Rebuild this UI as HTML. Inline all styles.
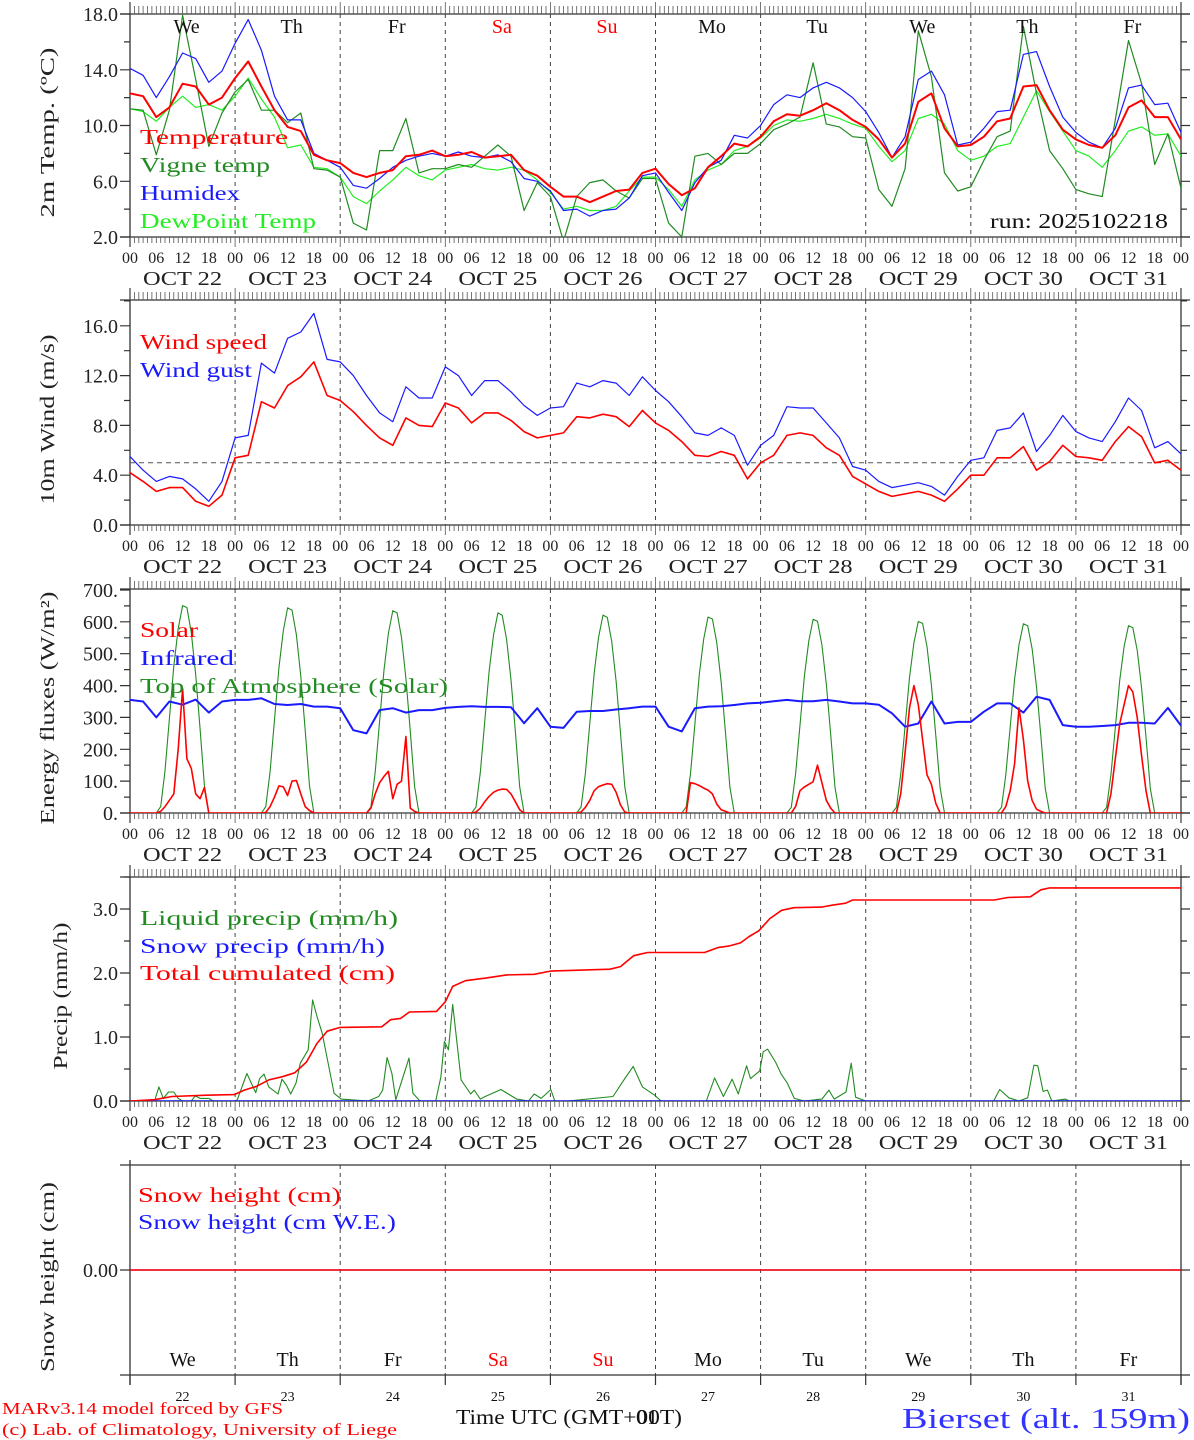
<!DOCTYPE html>
<html><head><meta charset="utf-8"><title>MAR forecast Bierset</title>
<style>
html,body{margin:0;padding:0;background:#fff;}
svg{display:block;font-family:"Liberation Serif",serif;}
</style></head>
<body>
<svg id="chart" xmlns="http://www.w3.org/2000/svg" width="1194" height="1440" viewBox="0 0 1194 1440">
<rect x="0" y="0" width="1194" height="1440" fill="#fff"/>
</svg>
<script>
// ---- categories ----
const dayNames = ["We","Th","Fr","Sa","Su","Mo","Tu","We","Th","Fr"];
const dayNums = ["22","23","24","25","26","27","28","29","30","31"];
const hourLabels = ["00","06","12","18"];
// ---- panel 1: temperatures (3-hourly, 00 Oct22 .. 00 Nov1) ----
const temperature = [12.3,12.1,10.6,11.3,13.0,12.8,11.5,12.0, 13.4,14.6,12.8,11.1,9.9,9.6,7.9,7.5, 7.3,6.6,6.3,6.6,6.8,7.8,7.9,8.2, 7.8,7.9,8.1,7.7,7.8,7.9,6.8,6.4, 5.6,4.9,4.9,4.5,4.9,5.3,5.4,6.6, 6.9,5.8,5.0,5.5,7.0,7.8,8.7,8.5, 9.2,10.3,10.8,10.7,11.1,11.6,11.1,10.4, 9.9,9.0,7.7,8.7,11.7,12.3,9.8,8.5, 8.6,9.2,10.3,10.5,12.8,12.9,11.1,9.7, 9.0,8.6,8.4,9.3,11.3,11.8,10.6,10.6,9.0];
const humidex = [14.1,13.6,12.0,13.5,15.2,14.8,13.1,13.9, 15.9,17.6,15.4,12.1,10.4,10.4,8.0,7.5, 7.0,5.7,5.5,6.2,7.0,7.5,7.8,8.0, 7.8,8.1,7.8,7.7,7.9,7.4,6.2,6.0, 5.3,3.9,4.0,3.5,3.9,4.0,4.8,6.4, 6.6,5.2,3.9,5.9,7.0,7.5,9.3,9.1, 10.0,11.5,12.2,12.0,12.7,13.1,12.7,12.0, 11.0,9.5,7.7,9.2,13.3,13.9,12.2,8.6, 8.8,9.8,11.0,11.1,15.1,15.3,12.8,10.6, 9.5,8.8,8.4,9.8,12.7,12.9,11.5,11.6,9.5];
const dewPoint = [11.2,11.0,10.3,11.3,12.1,11.3,11.5,11.1, 12.1,13.4,11.9,10.6,8.4,8.6,7.0,6.9, 6.3,4.9,4.4,5.3,6.1,7.0,6.4,6.1, 6.8,7.0,7.2,6.9,6.8,7.0,6.8,6.1, 5.2,4.0,4.2,3.9,3.9,4.2,5.3,6.3, 6.3,5.4,4.2,6.1,6.8,7.2,8.2,8.5, 9.1,10.0,10.4,10.3,10.5,10.8,10.5,10.1, 9.8,8.5,7.4,8.2,10.5,10.8,10.1,8.2, 7.5,7.8,8.5,8.7,10.6,12.5,11.0,9.6, 8.2,7.8,7.0,8.2,9.6,9.9,9.3,9.4,7.8];
const vigneTemp = [11.2,11.1,7.9,11.1,17.9,13.3,8.5,10.9, 12.4,13.3,11.1,11.1,10.2,10.9,6.9,6.8, 6.3,3.0,2.5,8.2,8.2,10.5,6.6,6.9, 6.9,7.2,7.0,7.8,8.6,7.8,3.9,5.9, 4.9,1.7,4.9,5.9,6.1,5.3,4.8,6.2, 6.2,3.0,2.0,7.8,8.0,7.2,8.0,8.0, 8.7,9.7,10.1,10.6,14.5,10.1,9.9,9.2, 9.1,5.4,4.2,6.9,16.8,13.5,6.6,5.3, 5.6,7.5,9.2,9.6,17.1,12.3,8.2,6.9, 5.4,5.1,4.9,10.4,16.1,13.0,7.2,9.4,5.5];
const tempTicks = [2,6,10,14,18];
const tempTickLabels = ["2.0","6.0","10.0","14.0","18.0"];
// ---- panel 2: wind (3-hourly) ----
const windSpeed = [4.2,3.5,2.7,3.0,3.0,1.9,1.5,2.4, 5.4,5.6,9.9,9.4,11.2,11.9,13.1,10.4, 10.0,9.1,8.0,7.0,6.4,8.6,8.0,7.9, 9.8,9.4,8.2,9.0,9.0,8.4,7.5,7.0, 7.2,7.4,8.7,8.6,8.9,8.7,7.9,9.2, 8.2,7.6,6.7,5.6,5.5,5.9,5.6,3.7, 5.0,5.6,7.2,7.4,7.2,6.2,5.6,3.9, 3.3,2.7,2.3,2.5,2.7,2.4,1.9,2.9, 4.0,4.0,5.4,5.4,6.3,4.4,5.1,6.4, 5.5,5.4,5.2,6.7,7.9,7.1,5.0,5.2,4.4];
const windGust = [5.5,4.4,3.5,3.9,3.7,2.9,1.9,3.5, 7.0,7.2,13.0,12.2,15.0,15.5,17.0,13.3, 13.1,12.0,10.4,9.0,8.3,11.1,10.2,10.2, 12.7,12.0,10.4,11.6,11.6,10.7,9.6,8.8, 9.4,9.5,11.4,11.1,11.6,11.4,10.4,11.9, 10.8,9.9,8.7,7.4,7.2,7.8,7.2,4.8, 6.4,7.2,9.5,9.4,9.4,8.2,7.0,4.7, 4.4,3.5,3.0,3.2,3.4,3.1,2.4,3.9, 5.2,5.4,7.6,7.8,9.0,5.9,7.2,8.8, 7.5,7.0,6.7,8.3,10.2,9.2,6.2,6.7,5.7];
const windRef = [5.0];
const windTicks = [0,4,8,12,16];
const windTickLabels = ["0.0","4.0","8.0","12.0","16.0"];
// ---- panel 3: energy fluxes ----
const infrared = [355,350,300,350,340,356,315,350, 355,355,360,342,339,342,334,334, 329,260,250,323,329,315,323,323, 330,333,335,333,333,332,282,329, 271,267,318,320,320,325,329,334, 334,271,256,329,334,335,339,344, 346,351,355,351,351,355,350,344, 344,340,313,271,281,350,281,286, 286,318,344,344,315,365,355,276, 271,271,273,276,283,283,281,330,274];
// hourly daytime values 06..18 UTC for each day
const solar = [
 [0,5,20,40,60,200,390,170,140,60,45,80,0],
 [0,2,20,50,85,82,55,100,102,60,20,8,0],
 [0,15,60,95,115,131,45,90,100,240,15,5,0],
 [0,3,15,35,52,65,72,75,74,60,35,10,0],
 [0,3,18,40,70,83,88,92,90,65,25,3,0],
 [0,0,95,92,86,78,72,60,28,10,5,0,0],
 [0,0,20,70,82,90,98,150,95,40,15,0,0],
 [0,0,60,190,330,400,340,230,120,90,30,0,0],
 [0,0,20,70,155,330,230,100,40,12,5,0,0],
 [0,0,60,170,280,340,400,380,300,180,70,0,0]];
const toaSolar = [
 [0,20,132,296,461,579,651,645,566,434,263,86,0],
 [0,20,130,293,455,572,644,637,559,429,260,85,0],
 [0,19,128,288,449,564,635,628,551,423,256,83,0],
 [0,19,127,285,444,558,628,621,545,418,254,82,0],
 [0,19,125,282,439,552,621,614,539,414,251,82,0],
 [0,19,124,279,435,546,615,609,534,410,248,81,0],
 [0,18,123,276,430,540,608,602,528,405,246,80,0],
 [0,18,121,273,425,534,601,595,522,401,243,79,0],
 [0,18,120,270,420,528,594,588,516,396,240,78,0],
 [0,18,119,267,416,523,588,582,511,392,238,77,0]];
const energyTicks = [0,100,200,300,400,500,600,700];
const energyTickLabels = ["0.","100.","200.","300.","400.","500.","600.","700."];
// ---- panel 4: precipitation ----
const liquidHours = [0,5.6,6.6,7.6,8.8,10,11,12,14,14.9,16,18,19,24,24.5,26.7,28.7,29.6,30.6,31.7,33.8,34.7,35.7,36.7,37.9,38.9,40.7,41.7,42.7,43.9,46.6,48.2,54.4,56.8,57.7,58.7,59.8,60.7,63.7,64.6,66.2,69.8,71,71.8,72.7,73.7,75.6,77.8,78.6,80,81.1,84.7,88.3,91,92.3,93.9,96.1,97,100,110.3,113,114.9,117,119.8,121.3,131.6,133.5,135.5,137.5,138.9,140.8,141.7,143.8,144.6,145.6,147.4,148.7,150.1,151.7,154,158,159.6,160.8,163.5,164.7,165.7,168,197.2,198.6,200.7,203,205,206.4,207.3,208.5,209.5,210.5,213.6,214.5,240];
const liquidPrecip = [0,0,0.22,0.04,0.14,0.14,0.04,0,0,0.08,0.04,0.04,0,0,0.02,0.43,0.13,0.35,0.42,0.22,0.11,0.34,0.25,0.11,0.28,0.59,0.8,1.58,1.32,1.06,0.12,0.03,0,0.07,0.17,0.68,0.43,0.02,0.67,0.12,0,0,0.38,0.93,0.8,1.51,0.33,0.11,0.17,0.03,0.07,0.18,0.03,0,0.11,0.04,0.18,0,0,0.07,0.35,0.54,0.22,0.09,0,0,0.36,0.07,0.34,0.11,0.55,0.35,0.47,0.77,0.81,0.61,0.42,0.28,0.04,0,0.03,0.17,0.03,0.14,0.59,0.06,0,0,0.18,0.05,0,0.05,0.56,0.55,0.15,0.17,0,0.03,0,0];
const snowPrecipHours = [0,240];
const snowPrecip = [0,0];
const cumulHours = [0,5.6,9.6,17.5,23.8,26.1,28.9,31.7,34.8,37.6,40.3,42.7,45,48,57.5,59.5,61.8,63.8,70,72,73.7,76.6,81.2,86,92.3,96,109.6,112,115,118.2,131.2,134.4,136.7,139.4,141.4,143.6,146.1,148.8,151.6,157.9,160.3,163.4,165,197.4,200.4,205.6,208,210,240];
const cumulPrecip = [0,0.02,0.07,0.09,0.1,0.17,0.23,0.33,0.38,0.44,0.61,0.9,1.09,1.15,1.16,1.27,1.29,1.39,1.4,1.55,1.79,1.88,1.92,1.97,1.98,2.03,2.06,2.1,2.27,2.32,2.32,2.4,2.42,2.47,2.57,2.66,2.85,2.98,3.02,3.03,3.06,3.09,3.14,3.14,3.18,3.19,3.3,3.33,3.33];
const precipTicks = [0,1,2,3];
const precipTickLabels = ["0.0","1.0","2.0","3.0"];
// ---- panel 5: snow ----
const snowHours = [0,240];
const snowHeight = [0,0];
const snowWE = [0,0];
const snowTicks = [0];
const snowTickLabels = ["0.00"];

const NS = "http://www.w3.org/2000/svg";
const svg = document.getElementById("chart");
const X0 = 130, X1 = 1181, HT = 240;
function xOf(h){ return X0 + (X1 - X0) * h / HT; }
function yOf(p, v){ return p.bottom - (v - p.ymin) / (p.ymax - p.ymin) * (p.bottom - p.top); }
function mk(tag, attrs, parent){
  const el = document.createElementNS(NS, tag);
  for (const k in attrs) el.setAttribute(k, attrs[k]);
  (parent || svg).appendChild(el);
  return el;
}
function nm(el, name){
  
  
  return el;
}
function txt(x, y, s, size, color, name, opts){
  opts = opts || {};
  const a = {x:x, y:y, "font-size":size, fill:color||"#000"};
  if (opts.anchor) a["text-anchor"] = opts.anchor;
  if (opts.len) { a.textLength = opts.len; a.lengthAdjust = "spacingAndGlyphs"; }
  if (opts.transform) a.transform = opts.transform;
  const el = mk("text", a, opts.parent);
  el.textContent = s;
  nm(el, name);
  return el;
}

const panels = [
  {id:"temp", top:14, bottom:237, ymin:2, ymax:18, ticks:tempTicks, labels:tempTickLabels, minor:2, title:"2m Temp. (\u00baC)", tx:47, tlen:170},
  {id:"wind", top:300, bottom:525, ymin:0, ymax:225/12.45, ticks:windTicks, labels:windTickLabels, minor:2, title:"10m Wind (m/s)", tx:47, tlen:170},
  {id:"energy", top:589, bottom:813, ymin:0, ymax:224/0.3186, ticks:energyTicks, labels:energyTickLabels, minor:50, title:"Energy fluxes (W/m\u00b2)", tx:47, tlen:233},
  {id:"precip", top:877, bottom:1101, ymin:0, ymax:3.5, ticks:precipTicks, labels:precipTickLabels, minor:0.5, title:"Precip (mm/h)", tx:60, tlen:147},
  {id:"snow", top:1165, bottom:1375, ymin:-1, ymax:1, ticks:snowTicks, labels:snowTickLabels, minor:0, title:"Snow height (cm)", tx:47, tlen:190}
];

// clip paths
const defs = mk("defs", {});
nm(defs, "clip-defs");
panels.forEach(function(p){
  const cp = mk("clipPath", {id:"clip-"+p.id}, defs);
  nm(cp, p.id+"-clip");
  const r = mk("rect", {x:X0, y:p.top, width:X1-X0, height:p.bottom-p.top}, cp);
  nm(r, p.id+"-clip-rect");
});

function drawFrame(p, isLast){
  const g = mk("g", {});
  nm(g, p.id+"-axes");
  // day separators dashed
  for (let d = 1; d < 10; d++){
    const l = mk("line", {x1:xOf(d*24), x2:xOf(d*24), y1:p.top, y2:p.bottom, stroke:"#444", "stroke-width":1, "stroke-dasharray":"4,4"}, g);
    nm(l, p.id+"-day-separator");
  }
  // horizontal axis lines
  const tl = mk("line", {x1:120, x2:1190, y1:p.top, y2:p.top, stroke:"#333", "stroke-width":1.3}, g);
  nm(tl, p.id+"-top-axis");
  const bl = mk("line", {x1:120, x2:1190, y1:p.bottom, y2:p.bottom, stroke:"#333", "stroke-width":1.3}, g);
  nm(bl, p.id+"-bottom-axis");
  const ll = mk("line", {x1:X0, x2:X0, y1:p.top-(isLast?5:12), y2:p.bottom+10, stroke:"#333", "stroke-width":1.3}, g);
  nm(ll, p.id+"-left-axis");
  const rl = mk("line", {x1:X1, x2:X1, y1:p.top-(isLast?5:12), y2:p.bottom+10, stroke:"#333", "stroke-width":1.3}, g);
  nm(rl, p.id+"-right-axis");
  // hourly ticks
  if (!isLast){
    let dpath = "";
    for (let h = 0; h <= 240; h++){
      const x = xOf(h).toFixed(1);
      const big = h % 24 === 0;
      dpath += "M"+x+" "+p.top+"V"+(p.top-(big?12:8))+"M"+x+" "+p.bottom+"V"+(p.bottom+(big?10:6));
    }
    const tk = mk("path", {d:dpath, stroke:"#555", "stroke-width":0.8, fill:"none"}, g);
    nm(tk, p.id+"-hour-ticks");
  } else {
    let dpath = "";
    for (let d = 0; d <= 10; d++){
      const x = xOf(d*24).toFixed(1);
      dpath += "M"+x+" "+p.bottom+"V"+(p.bottom+10);
    }
    const tk = mk("path", {d:dpath, stroke:"#333", "stroke-width":1.2, fill:"none"}, g);
    nm(tk, p.id+"-day-ticks");
  }
  // y ticks
  let ypath = "";
  p.ticks.forEach(function(v){
    const y = yOf(p, v).toFixed(1);
    ypath += "M120 "+y+"H"+X0+"M"+X1+" "+y+"H1190";
  });
  if (p.minor){
    for (let v = p.ymin; v <= p.ymax + 1e-6; v += p.minor){
      const y = yOf(p, v).toFixed(1);
      ypath += "M124 "+y+"H"+X0+"M"+X1+" "+y+"H1187";
    }
  }
  const yt = mk("path", {d:ypath, stroke:"#333", "stroke-width":1.2, fill:"none"}, g);
  nm(yt, p.id+"-y-ticks");
  p.ticks.forEach(function(v, i){
    txt(118, yOf(p, v)+7, p.labels[i], 20, "#222", p.id+"-y-tick-label", {anchor:"end", parent:g});
  });
  // y title
  const cy = (p.top + p.bottom)/2;
  txt(p.tx, cy, p.title, 20, "#222", p.id+"-y-axis-title", {anchor:"middle", len:p.tlen, transform:"rotate(-90 "+(p.tx+7)+" "+cy+")", parent:g});
  // x labels
  if (!isLast){
    for (let d = 0; d < 10; d++){
      hourLabels.forEach(function(s, j){
        txt(xOf(d*24+j*6), p.bottom+26, s, 16, "#222", p.id+"-hour-label", {anchor:"middle", parent:g});
      });
      txt(xOf(d*24+12), p.bottom+48, "OCT "+dayNums[d], 20, "#222", p.id+"-date-label", {anchor:"middle", len:79, parent:g});
    }
    txt(xOf(240), p.bottom+26, "00", 16, "#222", p.id+"-hour-label", {anchor:"middle", parent:g});
  }
}

function drawLine(p, hours, vals, color, width, name){
  let pts = [];
  for (let i = 0; i < vals.length; i++){
    pts.push(xOf(hours[i]).toFixed(1)+","+yOf(p, vals[i]).toFixed(1));
  }
  const el = mk("polyline", {points:pts.join(" "), fill:"none", stroke:color, "stroke-width":width, "stroke-linejoin":"round", "clip-path":"url(#clip-"+p.id+")"});
  nm(el, name);
  return el;
}
function threeHourly(vals){ return vals.map(function(_, i){ return i*3; }); }
function dailyCurve(dayArrays){
  const hrs = [0], vs = [0];
  dayArrays.forEach(function(arr, d){
    arr.forEach(function(v, j){ hrs.push(d*24+6+j); vs.push(v); });
  });
  hrs.push(240); vs.push(0);
  return {h:hrs, v:vs};
}

panels.forEach(function(p, i){ drawFrame(p, i === 4); });

// Panel 1
const P1 = panels[0], h3 = threeHourly(temperature);
drawLine(P1, h3, dewPoint, "#22ee22", 1.2, "dewpoint-line");
drawLine(P1, h3, vigneTemp, "#228b22", 1.2, "vigne-temp-line");
drawLine(P1, h3, humidex, "#1a1aff", 1.2, "humidex-line");
drawLine(P1, h3, temperature, "#ff0000", 2, "temperature-line");
dayNames.forEach(function(s, d){
  const weekend = (s === "Sa" || s === "Su");
  txt(xOf(d*24+12)+4, 33, s, 20, weekend ? "#ff0000" : "#111", "day-name-top", {anchor:"middle"});
});
txt(140, 144, "Temperature", 21, "#ff0000", "legend-temperature", {len:148});
txt(140, 172, "Vigne temp", 21, "#228b22", "legend-vigne-temp", {len:130});
txt(140, 200, "Humidex", 21, "#1a1aff", "legend-humidex", {len:100});
txt(140, 228, "DewPoint Temp", 21, "#22ee22", "legend-dewpoint", {len:176});
txt(990, 228, "run: 2025102218", 21, "#111", "run-label", {len:178});

// Panel 2
const P2 = panels[1];
const ref = mk("line", {x1:X0, x2:X1, y1:yOf(P2, windRef[0]), y2:yOf(P2, windRef[0]), stroke:"#555", "stroke-width":1, "stroke-dasharray":"5,4"});
nm(ref, "wind-reference-line");
drawLine(P2, h3, windGust, "#1a1aff", 1.2, "wind-gust-line");
drawLine(P2, h3, windSpeed, "#ff0000", 1.6, "wind-speed-line");
txt(140, 349, "Wind speed", 21, "#ff0000", "legend-wind-speed", {len:127});
txt(140, 377, "Wind gust", 21, "#1a1aff", "legend-wind-gust", {len:112});

// Panel 3
const P3 = panels[2];
const toa = dailyCurve(toaSolar), sol = dailyCurve(solar);
drawLine(P3, toa.h, toa.v, "#228b22", 1.1, "toa-solar-line");
drawLine(P3, h3, infrared, "#1a1aff", 2, "infrared-line");
drawLine(P3, sol.h, sol.v, "#ff0000", 1.6, "solar-line");
txt(140, 637, "Solar", 21, "#ff0000", "legend-solar", {len:58});
txt(140, 665, "Infrared", 21, "#1a1aff", "legend-infrared", {len:94});
txt(140, 693, "Top of Atmosphere (Solar)", 21, "#228b22", "legend-toa", {len:308});

// Panel 4
const P4 = panels[3];
drawLine(P4, liquidHours, liquidPrecip, "#228b22", 1.1, "liquid-precip-line");
drawLine(P4, snowPrecipHours, snowPrecip, "#1a1aff", 1.6, "snow-precip-line");
drawLine(P4, cumulHours, cumulPrecip, "#ff0000", 1.6, "cumulated-precip-line");
txt(140, 925, "Liquid precip (mm/h)", 21, "#228b22", "legend-liquid-precip", {len:258});
txt(140, 953, "Snow precip (mm/h)", 21, "#1a1aff", "legend-snow-precip", {len:245});
txt(140, 980, "Total cumulated (cm)", 21, "#ff0000", "legend-total-cumulated", {len:255});

// Panel 5
const P5 = panels[4];
drawLine(P5, snowHours, snowWE, "#1a1aff", 1.2, "snow-we-line");
drawLine(P5, snowHours, snowHeight, "#ff0000", 1.6, "snow-height-line");
txt(138, 1202, "Snow height (cm)", 21, "#ff0000", "legend-snow-height", {len:203});
txt(138, 1229, "Snow height (cm W.E.)", 21, "#1a1aff", "legend-snow-we", {len:258});
dayNames.forEach(function(s, d){
  const weekend = (s === "Sa" || s === "Su");
  txt(xOf(d*24+12), 1366, s, 20, weekend ? "#ff0000" : "#111", "day-name-bottom", {anchor:"middle"});
  txt(xOf(d*24+12), 1401, dayNums[d], 14, "#111", "day-number-label", {anchor:"middle"});
});

// Footer
txt(2, 1414, "MARv3.14 model forced by GFS", 17, "#ff0000", "model-credit", {len:281});
txt(2, 1435, "(c) Lab. of Climatology, University of Liege", 17, "#ff0000", "lab-credit", {len:395});
txt(456, 1424, "Time UTC (GMT+00T)", 21, "#111", "x-axis-title", {len:226});
txt(636, 1424, "01", 21, "#111", "x-axis-title-overlay", {len:22});
txt(902, 1428, "Bierset (alt. 159m)", 29, "#3333ff", "station-title", {len:288});
</script>
</body></html>
